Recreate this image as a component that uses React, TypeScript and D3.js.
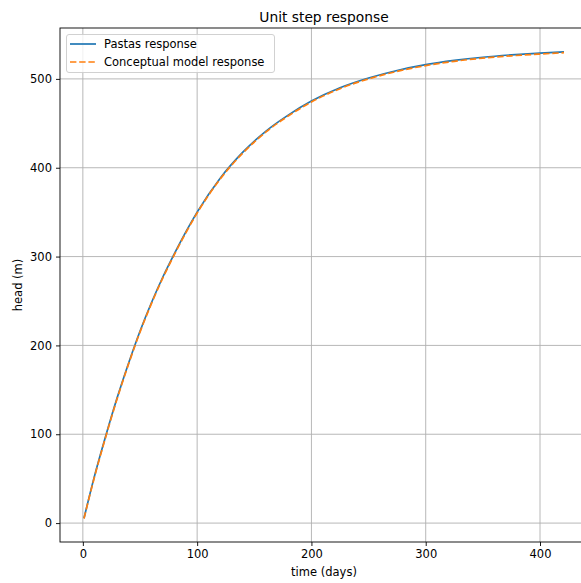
import React, { useEffect, useRef } from 'react';
import * as d3 from 'd3';

// values
const days = [1, 10, 20, 30, 40, 50, 60, 70, 80, 90, 100, 120, 140, 160, 180, 200, 225, 250, 275, 300, 325, 350, 375, 400, 421];
const pastasHead = [5.5, 52, 98, 141, 180, 216, 248, 277, 303, 327.5, 350, 388, 417.5, 441, 459.5, 475, 490, 501, 509.5, 516, 520.8, 524.4, 527, 529, 530.5];
const conceptHead = [5.2, 51, 97, 140, 179, 215, 247, 276, 302, 326.5, 349, 387, 416.5, 440, 458.5, 474, 489, 500, 508.5, 515, 519.8, 523.4, 526, 528, 529.5];
const xTicks = [0, 100, 200, 300, 400];
const yTicks = [0, 100, 200, 300, 400, 500];

const App = () => {
  const ref = useRef<SVGSVGElement>(null);

  useEffect(() => {
    const left = 60, right = 588, top = 28, bottom = 542;
    const font = 'DejaVu Sans, sans-serif';

    const svg = d3.select(ref.current);
    svg.selectAll('*').remove();

    const x = d3.scaleLinear().domain([-20, 442]).range([left, right]);
    const y = d3.scaleLinear().domain([-21.3, 557.3]).range([bottom, top]);

    // grid
    const grid = svg.append('g').attr('stroke', '#b0b0b0').attr('stroke-width', 0.9);
    xTicks.forEach(t => {
      grid.append('line').attr('x1', x(t)).attr('x2', x(t)).attr('y1', top).attr('y2', bottom);
    });
    yTicks.forEach(t => {
      grid.append('line').attr('x1', left).attr('x2', right).attr('y1', y(t)).attr('y2', y(t));
    });

    const line = (vals: number[]) =>
      d3.line<number>()
        .x((d, i) => x(days[i]))
        .y(d => y(d))
        .curve(d3.curveMonotoneX)(vals);

    svg.append('path')
      .attr('d', line(pastasHead))
      .attr('fill', 'none')
      .attr('stroke', '#1f77b4')
      .attr('stroke-width', 1.7);

    svg.append('path')
      .attr('d', line(conceptHead))
      .attr('fill', 'none')
      .attr('stroke', '#ff7f0e')
      .attr('stroke-width', 1.7)
      .attr('stroke-dasharray', '6.4,2.8');

    // spines
    svg.append('rect')
      .attr('x', left).attr('y', top)
      .attr('width', right - left).attr('height', bottom - top)
      .attr('fill', 'none').attr('stroke', 'black').attr('stroke-width', 0.9);

    // x axis
    const xa = svg.append('g').attr('transform', `translate(0,${bottom})`);
    xa.call(d3.axisBottom(x).tickValues(xTicks).tickSize(4).tickPadding(4).tickFormat(d3.format('d')));
    xa.select('.domain').remove();
    xa.selectAll('text').attr('font-family', font).attr('font-size', 11.5).attr('fill', 'black');
    xa.selectAll('line').attr('stroke', 'black').attr('stroke-width', 0.9);

    const ya = svg.append('g').attr('transform', `translate(${left},0)`);
    ya.call(d3.axisLeft(y).tickValues(yTicks).tickSize(4).tickPadding(4).tickFormat(d3.format('d')));
    ya.select('.domain').remove();
    ya.selectAll('text').attr('font-family', font).attr('font-size', 11.5).attr('fill', 'black');
    ya.selectAll('line').attr('stroke', 'black').attr('stroke-width', 0.9);

    // labels
    svg.append('text')
      .attr('x', (left + right) / 2).attr('y', 22)
      .attr('text-anchor', 'middle')
      .attr('font-family', font).attr('font-size', 13.8)
      .text('Unit step response');

    svg.append('text')
      .attr('x', (left + right) / 2).attr('y', 576)
      .attr('text-anchor', 'middle')
      .attr('font-family', font).attr('font-size', 11.5)
      .text('time (days)');

    svg.append('text')
      .attr('transform', `translate(22,${(top + bottom) / 2}) rotate(-90)`)
      .attr('text-anchor', 'middle')
      .attr('font-family', font).attr('font-size', 11.5)
      .text('head (m)');

    // legend
    const lg = svg.append('g');
    lg.append('rect')
      .attr('x', 66.5).attr('y', 34.5).attr('width', 208).attr('height', 38).attr('rx', 2.5)
      .attr('fill', 'white').attr('fill-opacity', 0.8)
      .attr('stroke', '#cccccc').attr('stroke-width', 0.9);
    const items = [
      { label: 'Pastas response', color: '#1f77b4', dash: null },
      { label: 'Conceptual model response', color: '#ff7f0e', dash: '6.4,2.8' },
    ];
    items.forEach((it, i) => {
      const cy = 44 + i * 18;
      lg.append('line')
        .attr('x1', 70).attr('x2', 96).attr('y1', cy).attr('y2', cy)
        .attr('stroke', it.color).attr('stroke-width', 1.7)
        .attr('stroke-dasharray', it.dash);
      lg.append('text')
        .attr('x', 104).attr('y', cy + 4.2)
        .attr('font-family', font).attr('font-size', 11.5)
        .text(it.label);
    });
  }, []);

  return (
    <svg
      ref={ref}
      width={581}
      height={583}
      style={{ position: 'absolute', left: 0, top: 0, background: 'white', overflow: 'hidden' }}
    />
  );
};

export default App;
